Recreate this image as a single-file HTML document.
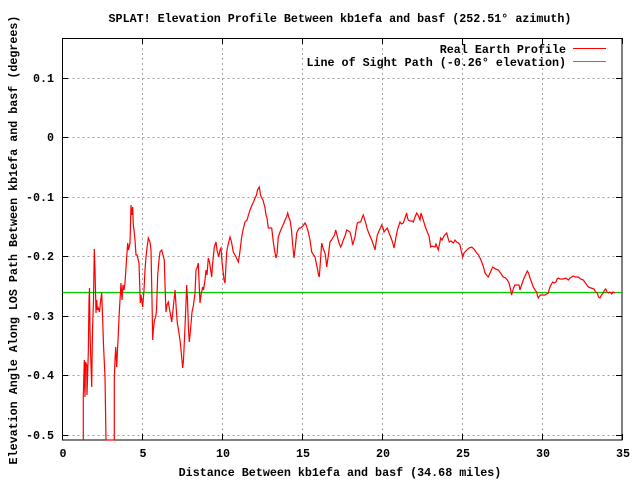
<!DOCTYPE html>
<html><head><meta charset="utf-8"><style>
html,body{margin:0;padding:0;background:#fff;}
svg{display:block;}
text{font-family:"Liberation Mono","DejaVu Sans Mono",monospace;font-size:11.7px;font-weight:bold;fill:#000;}
</style></head><body>
<svg width="640" height="480" viewBox="0 0 640 480" xmlns="http://www.w3.org/2000/svg">
<rect width="640" height="480" fill="#fff"/>
<g stroke="#a0a0a0" stroke-width="1" stroke-dasharray="2,3" fill="none">
<path d="M62.5 78.5H622M62.5 137.5H622M62.5 197.5H622M62.5 256.5H622M62.5 316.5H622M62.5 375.5H622M62.5 435.5H622"/>
<path d="M142.5 38V440M222.5 38V440M302.5 38V440M382.5 38V440M462.5 38V440M542.5 38V440"/>
</g>
<g stroke="#000" stroke-width="1" fill="none">
<rect x="62.5" y="38.5" width="559.5" height="401.5"/>
<path d="M62 78.5h6M62 137.5h6M62 197.5h6M62 256.5h6M62 316.5h6M62 375.5h6M62 435.5h6"/>
<path d="M622 78.5h-6M622 137.5h-6M622 197.5h-6M622 256.5h-6M622 316.5h-6M622 375.5h-6M622 435.5h-6"/>
<path d="M62.5 440v-6M142.5 440v-6M222.5 440v-6M302.5 440v-6M382.5 440v-6M462.5 440v-6M542.5 440v-6M622.5 440v-6"/>
<path d="M62.5 38v6M142.5 38v6M222.5 38v6M302.5 38v6M382.5 38v6M462.5 38v6M542.5 38v6M622.5 38v6"/>
</g>
<g text-anchor="end">
<text x="54" y="82">0.1</text>
<text x="54" y="141">0</text>
<text x="54" y="201">-0.1</text>
<text x="54" y="260">-0.2</text>
<text x="54" y="320">-0.3</text>
<text x="54" y="379">-0.4</text>
<text x="54" y="439">-0.5</text>
</g>
<g text-anchor="middle">
<text x="63" y="457">0</text>
<text x="143" y="457">5</text>
<text x="223" y="457">10</text>
<text x="303" y="457">15</text>
<text x="383" y="457">20</text>
<text x="463" y="457">25</text>
<text x="543" y="457">30</text>
<text x="623" y="457">35</text>
<text x="340" y="22">SPLAT! Elevation Profile Between kb1efa and basf (252.51° azimuth)</text>
<text x="340" y="476">Distance Between kb1efa and basf (34.68 miles)</text>
<text transform="translate(17,240) rotate(-90)">Elevation Angle Along LOS Path Between kb1efa and basf (degrees)</text>
</g>
<text x="566" y="53" text-anchor="end">Real Earth Profile</text>
<text x="566" y="66" text-anchor="end">Line of Sight Path (-0.26° elevation)</text>
<path d="M573 48.5h33" stroke="#f00" stroke-width="1"/>
<path d="M573 61.5h33" stroke="#0c0" stroke-width="1"/>
<path d="M62.5 292.5H622" stroke="#0c0" stroke-width="1.2"/>
<polyline fill="none" stroke="#f00" stroke-width="1.2" points="
83.3,440 83.3,397 84.3,360 85,397 85.5,362 86.7,365 87,395 88.3,353 89,300 89.5,288 90,330 90.5,350 91.7,387 92.5,330 93.5,300 94.3,249 95,270 96,313 96.7,300 97.5,310 98.3,308 99.5,312 100.7,300 101.7,293 102.7,320 103.5,345 105,377 106,440
114.3,440 114.3,380 115,360 115.7,347 116.7,367 117.5,350 118.5,330 119.3,312 120,300 121,283 122,300 123,285 124,290 125,283 126.7,257 127.7,243 128.5,250 130,243 131,205 131.7,215 132.7,207 133.3,225 134,230 135,240 136,255 137,255 139,263 140.3,303 141,295 142.7,307 144,290 145,270 146,257 147,248 148.3,238 150,242 151,250 152,300 152.7,340 153.3,330 154.5,320 155.7,317 156.5,310 157.7,275 159,260 160,252 161.7,250 163,255 164.3,260 165,285 166,312 167,305 168.3,302 170,312 171.7,322 173,310 175,290 176,305 177.3,323 178.5,330 180,340 181.5,355 182.7,368 183.5,360 185,327 186.7,285 187.5,300 188.5,330 189.3,342 190.5,330 192,312 193.5,305 195,293 196,270 197,268 198.3,263 199,280 200,303 201,295 202.7,287 203.5,290 205,280 206,270 207,275 208.3,258 209.5,262 211.7,277 212.5,265 214.3,247 216,242 217,250 218.7,257 220,250 221,248 222,262 223.3,273 224,280 225,283 226,265 226.7,252 228,245 230,237 231.5,242 233.3,252 235,255 236.5,258 238.3,262
239.5,255 241.7,237 243,230 245,222 247,220 248.5,215 250,210 252,205 253.5,202 255,198 256.5,195 257.5,190 259.3,187 260.5,195 261.7,198 263,200 265,208 266,215 267,218 268.3,228 270,228 271.7,228 272.5,235 273.3,242 274.5,250 276,258 277,254 278.3,237 280,232 281.7,228 283.5,224 285,220 286.5,217 287.7,213 289,218 290,220 291.5,230 292.7,245 294,258 295.5,245 296.7,233 298,230 299.3,228 300.5,228 301.7,227 303,226 305,223 306.5,226 308.3,232 310,240 311.7,252 313,254 315,257 316,262 317.3,268 318.5,275 319.3,277 320.5,260 321.7,243 323,248 325,253 326,260 326.7,267 328,258 330,242 331.5,240 333.3,237 334.5,235 335.7,230 336.5,233 337.7,238 339,243 340.7,247 342,244 343.3,240 345,236 346.7,230 348.5,231 350,232 351.5,238 352.7,245 353.5,242 355,237 356,230 357.3,223 359,222 360.7,222 362,218 363.3,215 364.5,219 365.7,223 367,228 368.3,232 370,236 371.7,240 373.5,245 375,250 376,243 377.3,235 379.5,230 381.7,225 383,228 384,232 385.5,230 387.3,228 389,233 390.7,237 392.5,242 394,248 395.5,240 396.7,233 398,228 400,222 401.5,224 403.3,223 405,218 406.7,213 407.5,218 408.3,220 410,221 412,221 413.3,222 415,217 416.7,213 418,215 420,220 421,213 423.3,220 425,226 427.3,232 429,236 430.7,247 432,246 435,247 436,244 438.3,250 439.5,244 440.7,238 442,240 444,236 446.7,233 448,238 449.3,242 451,241 453.3,243 455,240 456.7,242 458.5,243 460,245 461,250 462.7,257 464,253 466.7,250 469,248 471.7,247 474,249 476.7,253 478.5,255 480,258 481.7,262 483.5,267 485,273 486.5,275 488.3,277 490.5,272 492.7,267 495.5,269 498.3,270 500.5,273 503.3,277 505.5,278 507.3,280 509,283 510.7,290 511.5,295 512.5,292 513.5,288 515,285 517,285 519,285 520,290 521.5,285 523.3,280 525.5,275 527.3,271 528.5,273 530,278 531.5,282 533.3,287 535,290 536.7,292 537.5,296 538.3,298 539.5,296 540.7,295 542.5,295 545,295 546.5,294 548.3,293 549,290 550,287 551.5,284 552.7,282 554,283 556,282 557,279 558.3,278 560,279 563.3,279 566,278 568.3,280 570,278 573.3,276 575.5,277 578.3,277 580.5,279 583.3,280 585.5,283 588.3,287 591,288 594,289 595.5,292 597.3,293 598.5,297 600,298 601.5,295 603.3,293 604.5,290 605.7,289 607,292 608.3,293 610,292 611.7,294 613,292 615,293"/>
</svg>
</body></html>
